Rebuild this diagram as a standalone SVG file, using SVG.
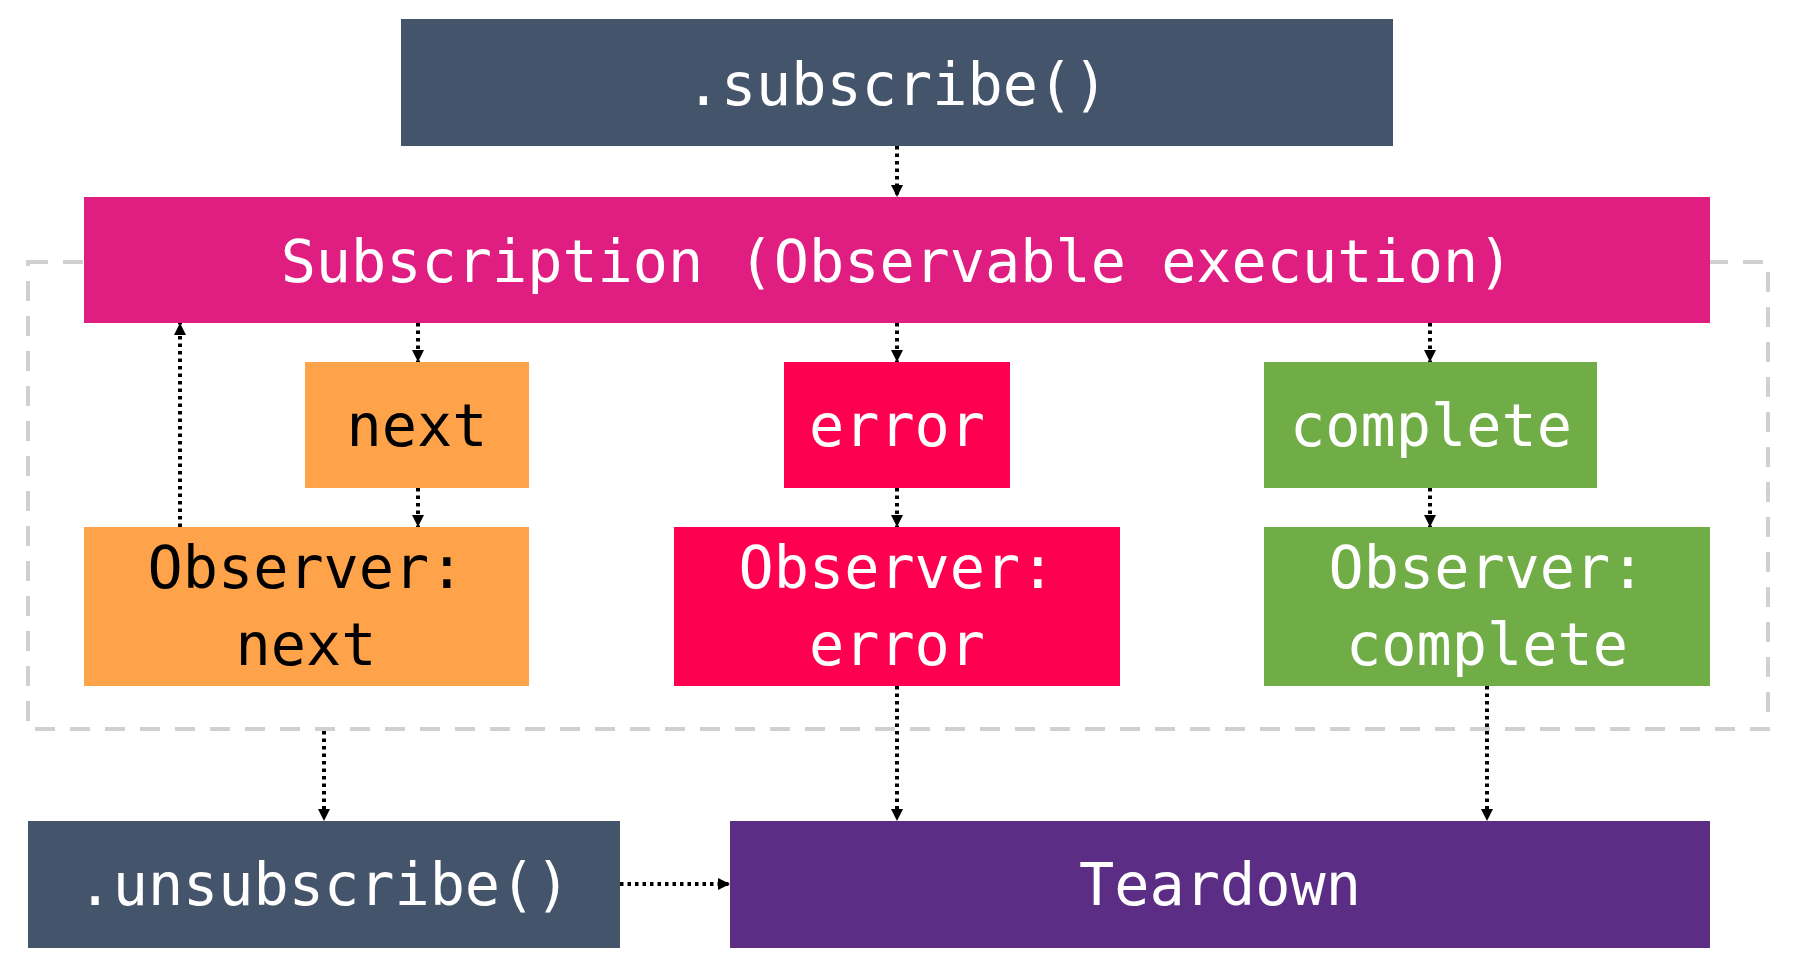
<svg xmlns="http://www.w3.org/2000/svg" width="1794" height="970" viewBox="0 0 1794 970">
<defs>
<marker id="arr" viewBox="0 0 12 12" refX="12" refY="6" markerWidth="12" markerHeight="12" markerUnits="userSpaceOnUse" orient="auto">
<path d="M0,0 L12,6 L0,12 Z" fill="#000"/>
</marker>
<style>
.t{font-family:"DejaVu Sans Mono","Liberation Mono",monospace;font-size:58.5px;text-anchor:middle}
.w{fill:#fff}
.b{fill:#000}
.c{fill:none;stroke:#000;stroke-width:4;stroke-dasharray:3.5 4;marker-end:url(#arr)}
</style>
</defs>
<rect width="1794" height="970" fill="#fff"/>
<g id="container">
<rect x="28" y="262" width="1740" height="467" fill="none" stroke="#d0d0d0" stroke-width="4" stroke-dasharray="20 15"/>
</g>
<g id="subscribe">
<rect x="401" y="19" width="992" height="127" fill="#44546A"/>
<text class="t w" x="897" y="105">.subscribe()</text>
</g>
<g id="subscription">
<rect x="84" y="197" width="1626" height="126" fill="#E01E82"/>
<text class="t w" x="897" y="282">Subscription (Observable execution)</text>
</g>
<g id="next">
<rect x="305" y="362" width="224" height="126" fill="#FFA34B"/>
<text class="t b" x="417" y="446">next</text>
</g>
<g id="error">
<rect x="784" y="362" width="226" height="126" fill="#FF0050"/>
<text class="t w" x="897" y="446">error</text>
</g>
<g id="complete">
<rect x="1264" y="362" width="333" height="126" fill="#70AD47"/>
<text class="t w" x="1431" y="446">complete</text>
</g>
<g id="observer-next">
<rect x="84" y="527" width="445" height="159" fill="#FFA34B"/>
<text class="t b" x="306" y="588">Observer:</text>
<text class="t b" x="306" y="665">next</text>
</g>
<g id="observer-error">
<rect x="674" y="527" width="446" height="159" fill="#FF0050"/>
<text class="t w" x="897" y="588">Observer:</text>
<text class="t w" x="897" y="665">error</text>
</g>
<g id="observer-complete">
<rect x="1264" y="527" width="446" height="159" fill="#70AD47"/>
<text class="t w" x="1487" y="588">Observer:</text>
<text class="t w" x="1487" y="665">complete</text>
</g>
<g id="unsubscribe">
<rect x="28" y="821" width="592" height="127" fill="#44546A"/>
<text class="t w" x="324" y="905">.unsubscribe()</text>
</g>
<g id="teardown">
<rect x="730" y="821" width="980" height="127" fill="#5C2D84"/>
<text class="t w" x="1220" y="905">Teardown</text>
</g>
<g id="connectors">
<line class="c" x1="897" y1="146" x2="897" y2="197"/>
<line class="c" x1="418" y1="323" x2="418" y2="362"/>
<line class="c" x1="897" y1="323" x2="897" y2="362"/>
<line class="c" x1="1430" y1="323" x2="1430" y2="362"/>
<line class="c" x1="418" y1="488" x2="418" y2="527"/>
<line class="c" x1="897" y1="488" x2="897" y2="527"/>
<line class="c" x1="1430" y1="488" x2="1430" y2="527"/>
<line class="c" x1="180" y1="527" x2="180" y2="323"/>
<line class="c" x1="324" y1="731" x2="324" y2="821"/>
<line class="c" x1="897" y1="686" x2="897" y2="821"/>
<line class="c" x1="1487" y1="686" x2="1487" y2="821"/>
<line class="c" x1="620" y1="884" x2="730" y2="884"/>
</g>
</svg>
